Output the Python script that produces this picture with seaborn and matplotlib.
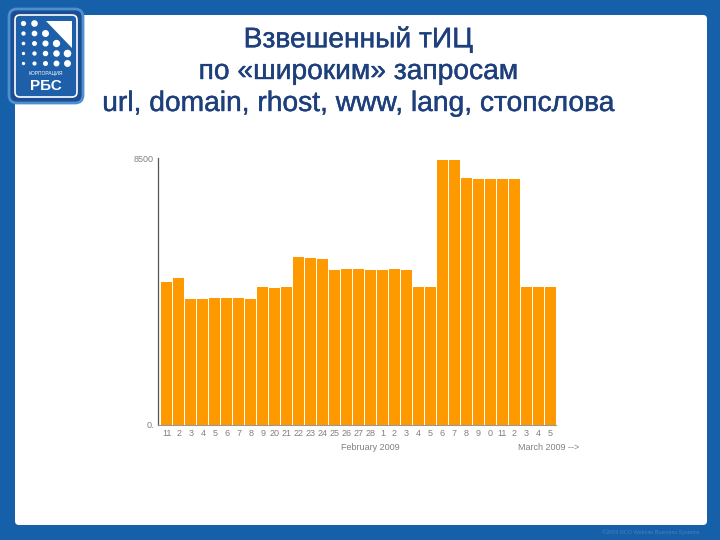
import numpy as np
import pandas as pd
import seaborn as sns
import matplotlib
matplotlib.use('Agg')
from matplotlib import pyplot as plt
from matplotlib import patheffects
from matplotlib.patches import FancyBboxPatch, Polygon

# days shown on the axis (Feb 11 .. Mar 15, 2009), labels as printed
day_labels = ['11', '2', '3', '4', '5', '6', '7', '8', '9', '20', '21', '22', '23', '24',
              '25', '26', '27', '28', '1', '2', '3', '4', '5', '6', '7', '8', '9', '0',
              '11', '2', '3', '4', '5']
weighted_tic = [4560, 4670, 4010, 4010, 4040, 4040, 4040, 4010, 4390, 4370, 4390, 5350,
                5330, 5300, 4930, 4970, 4970, 4930, 4930, 4970, 4920, 4390, 4390, 8450,
                8450, 7860, 7830, 7830, 7830, 7830, 4390, 4390, 4390]
y_ticks = [0, 8500]
y_tick_labels = ['0.', '8500']
title_lines = ['Взвешенный тИЦ', 'по «широким» запросам', 'url, domain, rhost, www, lang, стопслова']

sns.set_theme(style='white')
plt.rcParams['font.family'] = ['Liberation Sans', 'DejaVu Sans']

BLUE = '#1560a8'
ORANGE = '#ff9900'
GREY = '#808080'
TITLE = '#1d3f7c'

fig = plt.figure(figsize=(7.2, 5.4), dpi=100)
fig.patch.set_facecolor(BLUE)

# decoration layer in pixel coordinates
deco = fig.add_axes([0, 0, 1, 1])
deco.set_xlim(0, 720)
deco.set_ylim(540, 0)
deco.axis('off')
deco.add_patch(FancyBboxPatch((15, 15), 692, 510, boxstyle='round,pad=0,rounding_size=4',
                              fc='white', ec='none'))

# logo
deco.add_patch(FancyBboxPatch((9, 9), 74, 94, boxstyle='round,pad=0,rounding_size=8',
                              fc='#1b4f92', ec='#4f8fd0', lw=2))
deco.add_patch(FancyBboxPatch((15, 15), 62, 82, boxstyle='round,pad=0,rounding_size=5',
                              fc='#1d5fa8', ec='white', lw=1.2))
deco.add_patch(Polygon([(46, 21), (72, 21), (72, 48)], closed=True, fc='white', ec='none'))
for r in range(5):
    for c in range(5):
        if c - r > 1:
            continue
        s = 2 + 10 * max(0, 1 - abs((c - r) - 1) / 4) ** 2 + 2 * c
        deco.scatter(23 + c * 11, 23 + r * 10, s=s, color='white', zorder=5)
deco.text(46, 73, 'КОРПОРАЦИЯ', color='white', fontsize=3.6, ha='center', va='center')
deco.text(46, 86, 'РБС', color='white', fontsize=11, fontweight='bold', ha='center', va='center')

# title
for i, line in enumerate(title_lines):
    deco.text(359, 40 + i * 32, line, color=TITLE, fontsize=20.3, ha='center', va='center',
              path_effects=[patheffects.withStroke(linewidth=0.3, foreground=TITLE)])

deco.text(700, 532, '©2009 RCO Website Business Systems', color='#4a7fc0', fontsize=4,
          ha='right', va='center')

# chart
ax = fig.add_axes([158 / 720, 1 - 425 / 540, (556 - 158) / 720, (425 - 158) / 540])
df = pd.DataFrame({'idx': range(len(weighted_tic)), 'tic': weighted_tic})
sns.barplot(data=df, x='idx', y='tic', color=ORANGE, saturation=1, width=0.92,
            edgecolor='none', ax=ax)
ax.set_xlim(-0.75, len(weighted_tic) - 0.5)
ax.set_ylim(0, 8500)
ax.set_facecolor('white')
ax.set_xlabel('')
ax.set_ylabel('')
ax.set_xticks(range(len(day_labels)))
ax.set_xticklabels(day_labels, fontsize=6.5, color=GREY)
ax.set_yticks(y_ticks)
ax.set_yticklabels(y_tick_labels, fontsize=6.5, color=GREY)
ax.tick_params(axis='x', length=0, pad=3)
ax.tick_params(axis='y', length=0, pad=3)
for side in ['top', 'right']:
    ax.spines[side].set_visible(False)
ax.spines['left'].set_color('#555555')
ax.spines['left'].set_linewidth(0.9)
ax.spines['bottom'].set_color('#999999')
ax.spines['bottom'].set_linewidth(0.8)

fig.text(370 / 720, 1 - 448 / 540, 'February 2009', fontsize=6.5, color=GREY, ha='center', va='center')
fig.text(549 / 720, 1 - 448 / 540, 'March 2009 -->', fontsize=6.5, color=GREY, ha='center', va='center')

fig.savefig('out.png', dpi=100, facecolor=fig.get_facecolor())
